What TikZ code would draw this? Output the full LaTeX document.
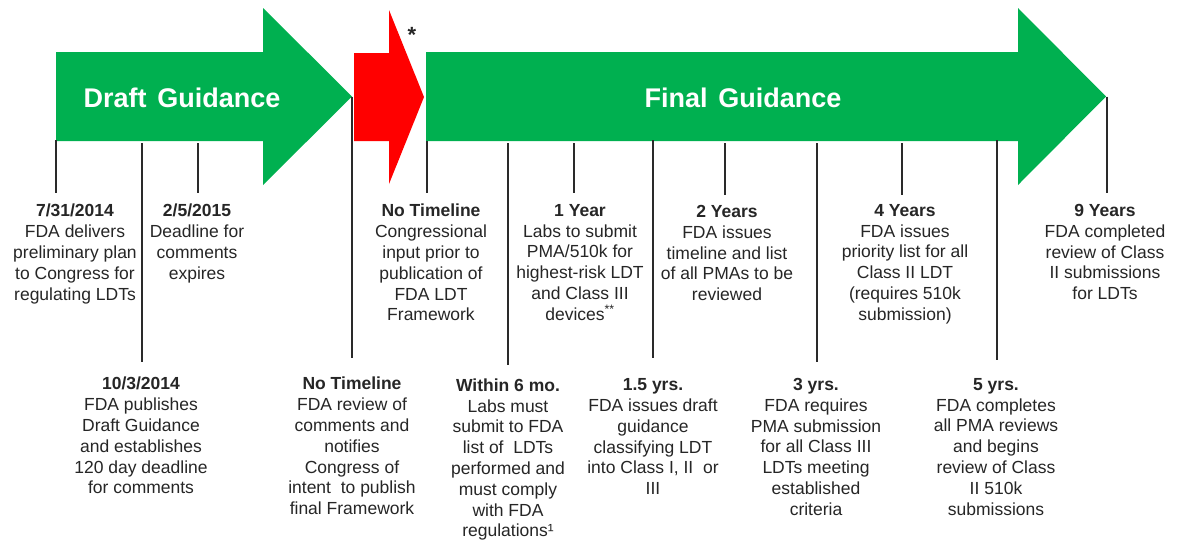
\documentclass[tikz,border=0pt]{standalone}
\usepackage{fontspec}
\setmainfont{Liberation Sans}
\definecolor{arrgreen}{HTML}{00B050}
\definecolor{arrred}{HTML}{FF0000}
\definecolor{txt}{HTML}{262626}
\definecolor{tickc}{HTML}{2A2A2A}
\tikzset{
  arrowshape/.style={draw=none},
  tickline/.style={draw=tickc, line width=1.8pt},
  evt/.style={align=center, inner sep=0pt, anchor=north, text=txt,
    font=\fontsize{17.5}{20.8}\selectfont},
  ttl/.style={inner sep=0pt, text=white, font=\fontsize{27}{30}\selectfont\bfseries},
}
\begin{document}
\begin{tikzpicture}[x=1pt,y=-1pt]
\useasboundingbox (0,0) rectangle (1179,542);
\fill[white] (0,0) rectangle (1179,542);
% arrows
\fill[arrgreen] (56,52) -- (263,52) -- (263,8) -- (352,96.5) -- (263,185) -- (263,141) -- (56,141) -- cycle;
\fill[arrred] (354,53) -- (389,53) -- (389,10) -- (424,97) -- (389,184) -- (389,141) -- (354,141) -- cycle;
\fill[arrgreen] (426,52) -- (1018,52) -- (1018,8) -- (1106,96.5) -- (1018,185) -- (1018,141) -- (426,141) -- cycle;
\node[ttl] (draft) at (182,98) {Draft\hspace{0.12em} Guidance};
\node[ttl] (final) at (743,98) {Final\hspace{0.12em} Guidance};
\node[inner sep=0pt, text=txt, font=\fontsize{22}{24}\selectfont\bfseries] (star) at (412,35) {*};
% ticks
\foreach \n/\x/\ya/\yb in {a/56/140/193, b/142/143/362, c/198/143/193, d/352/96.5/358,
  e/427/141/193, f/508/143/365, g/574/143/193, h/653/140/358, i/725/143/195,
  j/817/143/362, k/902/143/195, l/997/140/360, m/1107/96.5/193}{
  \coordinate (tA\n) at (\x,\ya);
  \coordinate (tB\n) at (\x,\yb);
  \draw[tickline] (tA\n) -- (tB\n);
}
% upper events
\node[evt] (e1) at (75,204) {\textbf{7/31/2014}\\FDA delivers\\preliminary plan\\to Congress for\\regulating LDTs};
\node[evt] (e3) at (197,204) {\textbf{2/5/2015}\\Deadline for\\comments\\expires};
\node[evt] (e5) at (431,204) {\textbf{No Timeline}\\Congressional\\input prior to\\publication of\\FDA LDT\\Framework};
\node[evt] (e7) at (580,204) {\textbf{1 Year}\\Labs to submit\\PMA/510k for\\highest-risk LDT\\and Class III\\devices\textsuperscript{**}};
\node[evt] (e9) at (727,205) {\textbf{2 Years}\\FDA issues\\timeline and list\\of all PMAs to be\\reviewed};
\node[evt] (e11) at (905,204) {\textbf{4 Years}\\FDA issues\\priority list for all\\Class II LDT\\(requires 510k\\submission)};
\node[evt] (e13) at (1105,204) {\textbf{9 Years}\\FDA completed\\review of Class\\II submissions\\for LDTs};
% lower events
\node[evt] (e2) at (141,377) {\textbf{10/3/2014}\\FDA publishes\\Draft Guidance\\and establishes\\120 day deadline\\for comments};
\node[evt] (e4) at (352,377) {\textbf{No Timeline}\\FDA review of\\comments and\\notifies\\Congress of\\intent\ \ to publish\\final Framework};
\node[evt] (e6) at (508,378.5) {\textbf{Within 6 mo.}\\Labs must\\submit to FDA\\list of\ \ LDTs\\performed and\\must comply\\with FDA\\regulations¹};
\node[evt] (e8) at (653,378.5) {\textbf{1.5 yrs.}\\FDA issues draft\\guidance\\classifying LDT\\into Class I, II\ \ or\\III};
\node[evt] (e10) at (816,378) {\textbf{3 yrs.}\\FDA requires\\PMA submission\\for all Class III\\LDTs meeting\\established\\criteria};
\node[evt] (e12) at (996,378) {\textbf{5 yrs.}\\FDA completes\\all PMA reviews\\and begins\\review of Class\\II 510k\\submissions};
\end{tikzpicture}
\end{document}
